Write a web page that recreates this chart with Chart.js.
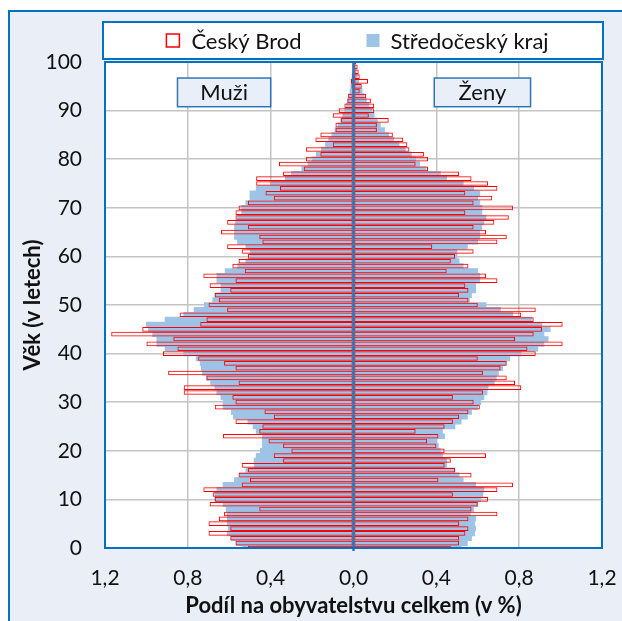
<!DOCTYPE html>
<html>
<head>
<meta charset="utf-8">
<script src="https://cdn.jsdelivr.net/npm/chart.js@4"></script>
<style>
  body { margin: 0; background: #fff; }
  #frame { position: absolute; left: 8px; top: 10px; width: 700px; height: 700px;
           background: #e9eef7; border: 2px solid #0070c0; }
  #pyramid { position: absolute; left: 0; top: 0; }
</style>
</head>
<body>
<div id="frame"></div>
<canvas id="pyramid" width="622" height="621"></canvas>
<script>
// vek 0..100
const ages = [0,1,2,3,4,5,6,7,8,9,10,11,12,13,14,15,16,17,18,19,20,21,22,23,24,25,26,27,28,29,30,
  31,32,33,34,35,36,37,38,39,40,41,42,43,44,45,46,47,48,49,50,51,52,53,54,55,56,57,58,59,60,
  61,62,63,64,65,66,67,68,69,70,71,72,73,74,75,76,77,78,79,80,81,82,83,84,85,86,87,88,89,90,
  91,92,93,94,95,96,97,98,99,100];

// podil v % - Cesky Brod
const brodMuzi = [0.51,0.57,0.595,0.70,0.595,0.70,0.65,0.625,0.455,0.695,
  0.67,0.68,0.725,0.54,0.50,0.555,0.51,0.54,0.34,0.385,
  0.30,0.34,0.41,0.63,0.455,0.44,0.57,0.385,0.43,0.67,
  0.57,0.585,0.82,0.82,0.555,0.71,0.895,0.57,0.625,0.75,
  0.92,0.85,1.0,0.87,1.17,1.02,0.74,0.71,0.84,0.61,
  0.70,0.65,0.67,0.595,0.695,0.57,0.725,0.525,0.585,0.555,
  0.51,0.54,0.61,0.44,0.455,0.64,0.51,0.61,0.57,0.57,
  0.555,0.51,0.385,0.425,0.355,0.47,0.47,0.34,0.24,0.36,
  0.23,0.16,0.23,0.10,0.184,0.16,0.087,0.087,0.06,0.10,
  0.071,0.044,0.03,0.026,0.006,0.01,0.013,0.008,0.005,0.002,0.003];
const brodZeny = [0.47,0.51,0.51,0.54,0.555,0.51,0.555,0.695,0.57,0.60,
  0.65,0.48,0.695,0.77,0.41,0.57,0.49,0.44,0.47,0.64,
  0.44,0.40,0.355,0.41,0.30,0.44,0.48,0.51,0.555,0.61,
  0.58,0.48,0.625,0.81,0.78,0.74,0.625,0.71,0.74,0.60,
  0.88,0.84,1.01,0.78,0.87,0.91,1.01,0.87,0.81,0.88,
  0.60,0.555,0.51,0.555,0.54,0.695,0.64,0.45,0.555,0.47,
  0.49,0.58,0.38,0.695,0.74,0.64,0.58,0.68,0.75,0.54,
  0.77,0.58,0.67,0.54,0.695,0.65,0.57,0.51,0.36,0.30,
  0.36,0.34,0.27,0.26,0.24,0.19,0.113,0.113,0.17,0.074,
  0.10,0.10,0.084,0.061,0.03,0.04,0.07,0.03,0.025,0.02,0.013];

// podil v % - Stredocesky kraj
const krajMuzi = [0.535,0.565,0.59,0.61,0.605,0.61,0.61,0.61,0.615,0.63,
  0.67,0.67,0.66,0.63,0.575,0.55,0.52,0.48,0.48,0.47,
  0.45,0.44,0.44,0.44,0.47,0.485,0.51,0.58,0.59,0.63,
  0.63,0.64,0.66,0.67,0.69,0.71,0.73,0.735,0.74,0.76,
  0.82,0.91,0.95,0.95,0.97,0.99,1.0,0.91,0.82,0.77,
  0.72,0.68,0.67,0.64,0.64,0.66,0.66,0.62,0.56,0.52,
  0.50,0.50,0.52,0.56,0.575,0.575,0.575,0.57,0.56,0.54,
  0.54,0.52,0.50,0.50,0.47,0.40,0.33,0.30,0.25,0.22,
  0.20,0.18,0.155,0.135,0.12,0.105,0.09,0.075,0.062,0.052,
  0.043,0.035,0.028,0.022,0.017,0.013,0.01,0.007,0.005,0.003,0.002];
const krajZeny = [0.52,0.55,0.57,0.585,0.59,0.585,0.59,0.565,0.58,0.60,
  0.615,0.625,0.63,0.59,0.53,0.51,0.49,0.45,0.45,0.43,
  0.42,0.41,0.40,0.44,0.43,0.49,0.52,0.55,0.57,0.60,
  0.615,0.63,0.645,0.65,0.68,0.69,0.70,0.72,0.735,0.755,
  0.81,0.89,0.92,0.94,0.92,0.95,0.91,0.86,0.77,0.71,
  0.64,0.56,0.57,0.59,0.59,0.61,0.61,0.60,0.53,0.51,
  0.50,0.50,0.55,0.60,0.61,0.61,0.62,0.63,0.64,0.62,
  0.62,0.61,0.60,0.61,0.58,0.53,0.45,0.42,0.35,0.32,
  0.30,0.28,0.25,0.22,0.195,0.17,0.15,0.13,0.115,0.10,
  0.088,0.075,0.063,0.052,0.042,0.033,0.025,0.018,0.013,0.009,0.006];

const seriesNames = ["Český Brod", "Středočeský kraj"];
const sideLabels = ["Muži", "Ženy"];

const FONT = "Lato, 'Open Sans', sans-serif";
const BLUE = "#0070c0";
const RED = "#ff0000";
const FILL = "#9dc3e6";
const GRID = "#c4c4c4";
const NONE = "rgba(0,0,0,0)";

function toPoints(vals, sign) {
  return vals.map((v, i) => ({ x: sign * v, y: ages[i] }));
}

function redBars(label, vals, sign) {
  return {
    label: label, data: toPoints(vals, sign),
    backgroundColor: NONE, borderColor: RED, borderWidth: 1,
    borderSkipped: false, grouped: false, barPercentage: 0.96, categoryPercentage: 1
  };
}
function blueBars(label, vals, sign) {
  return {
    label: label, data: toPoints(vals, sign),
    backgroundColor: FILL, borderWidth: 0,
    grouped: false, barPercentage: 1, categoryPercentage: 1
  };
}

const frame = {
  id: "frame",
  beforeDraw(chart) {
    const { ctx, chartArea: a } = chart;
    ctx.save();
    ctx.fillStyle = "#fff";
    ctx.fillRect(a.left, a.top, a.right - a.left, a.bottom - a.top);
    ctx.restore();
  },
  afterDatasetsDraw(chart) {
    const { ctx, chartArea: a, scales } = chart;
    const x0 = scales.x.getPixelForValue(0);
    ctx.save();
    // osa 0
    ctx.strokeStyle = "#2e75b6";
    ctx.lineWidth = 2.5;
    ctx.beginPath();
    ctx.moveTo(x0, a.top);
    ctx.lineTo(x0, a.bottom + 3);
    ctx.stroke();
    // ramecek grafu
    ctx.strokeStyle = BLUE;
    ctx.lineWidth = 2;
    ctx.strokeRect(a.left, a.top, a.right - a.left, a.bottom - a.top);

    // popisky Muzi / Zeny
    const boxes = [[-0.85, -0.40], [0.39, 0.855]];
    const yTop = scales.y.getPixelForValue(96.7), yBot = scales.y.getPixelForValue(90.8);
    ctx.font = "22px " + FONT;
    ctx.textAlign = "center";
    ctx.textBaseline = "middle";
    boxes.forEach((b, i) => {
      const l = scales.x.getPixelForValue(b[0]), r = scales.x.getPixelForValue(b[1]);
      ctx.fillStyle = "#e9eff8";
      ctx.fillRect(l, yTop, r - l, yBot - yTop);
      ctx.strokeStyle = "#2e75b6";
      ctx.lineWidth = 1.5;
      ctx.strokeRect(l, yTop, r - l, yBot - yTop);
      ctx.fillStyle = "#111";
      ctx.fillText(sideLabels[i], (l + r) / 2, (yTop + yBot) / 2 + 1);
    });

    // legenda
    const lt = a.top - 40, lb = a.top - 3;
    ctx.fillStyle = "#fff";
    ctx.fillRect(a.left - 2, lt, a.right - a.left + 3, lb - lt);
    ctx.strokeStyle = BLUE;
    ctx.lineWidth = 2;
    ctx.strokeRect(a.left - 2, lt, a.right - a.left + 3, lb - lt);
    ctx.font = "22px " + FONT;
    ctx.textAlign = "left";
    const w1 = ctx.measureText(seriesNames[0]).width;
    const w2 = ctx.measureText(seriesNames[1]).width;
    const total = 13 + 12 + w1 + 65 + 13 + 11 + w2;
    let x = (a.left + a.right) / 2 - total / 2 + 4;
    const cy = (lt + lb) / 2;
    ctx.strokeStyle = RED;
    ctx.lineWidth = 1.5;
    ctx.fillStyle = "#fff";
    ctx.fillRect(x, cy - 6.5, 13, 13);
    ctx.strokeRect(x, cy - 6.5, 13, 13);
    ctx.fillStyle = "#111";
    ctx.fillText(seriesNames[0], x + 25, cy + 1);
    x += 25 + w1 + 65;
    ctx.fillStyle = FILL;
    ctx.fillRect(x, cy - 6.5, 13, 13);
    ctx.fillStyle = "#111";
    ctx.fillText(seriesNames[1], x + 24, cy + 1);
    ctx.restore();
  }
};

new Chart(document.getElementById("pyramid"), {
  type: "bar",
  data: {
    datasets: [
      redBars(seriesNames[0], brodMuzi, -1),
      redBars(seriesNames[0] + " Ž", brodZeny, 1),
      blueBars(seriesNames[1], krajMuzi, -1),
      blueBars(seriesNames[1] + " Ž", krajZeny, 1)
    ]
  },
  options: {
    indexAxis: "y",
    responsive: false,
    animation: false,
    layout: { padding: { top: 62, left: 0, right: 20, bottom: 0 } },
    plugins: { legend: { display: false }, tooltip: { enabled: false } },
    scales: {
      x: {
        type: "linear", min: -1.2, max: 1.2,
        afterFit: s => { s.height = 73; s.paddingLeft = 0; s.paddingRight = 0; },
        border: { display: false, color: NONE },
        grid: {
          drawTicks: false, lineWidth: 1.5,
          color: c => (!c.tick || Math.abs(c.tick.value) < 1e-6 || Math.abs(c.tick.value) > 1.1) ? NONE : GRID
        },
        ticks: {
          stepSize: 0.4, padding: 18, color: "#111", font: { family: FONT, size: 21 },
          callback: v => Math.abs(v).toFixed(1).replace(".", ",")
        },
        title: {
          display: true, text: "Podíl na obyvatelstvu celkem (v %)", color: "#111",
          font: { family: FONT, size: 22, weight: "bold" }, padding: { top: 0, bottom: 2 }
        }
      },
      y: {
        type: "linear", min: 0, max: 100, offset: false,
        afterFit: s => { s.width = 105; },
        border: { display: false, color: NONE },
        grid: {
          offset: false, drawTicks: false, lineWidth: 1.5,
          color: c => (!c.tick || c.tick.value === 0 || c.tick.value === 100) ? NONE : GRID
        },
        ticks: { stepSize: 10, padding: 23, color: "#111", font: { family: FONT, size: 21 } },
        title: {
          display: true, text: "Věk (v letech)", color: "#111",
          font: { family: FONT, size: 22, weight: "bold" }, padding: { top: 20, bottom: 0 }
        }
      }
    }
  },
  plugins: [frame]
});
</script>
</body>
</html>
